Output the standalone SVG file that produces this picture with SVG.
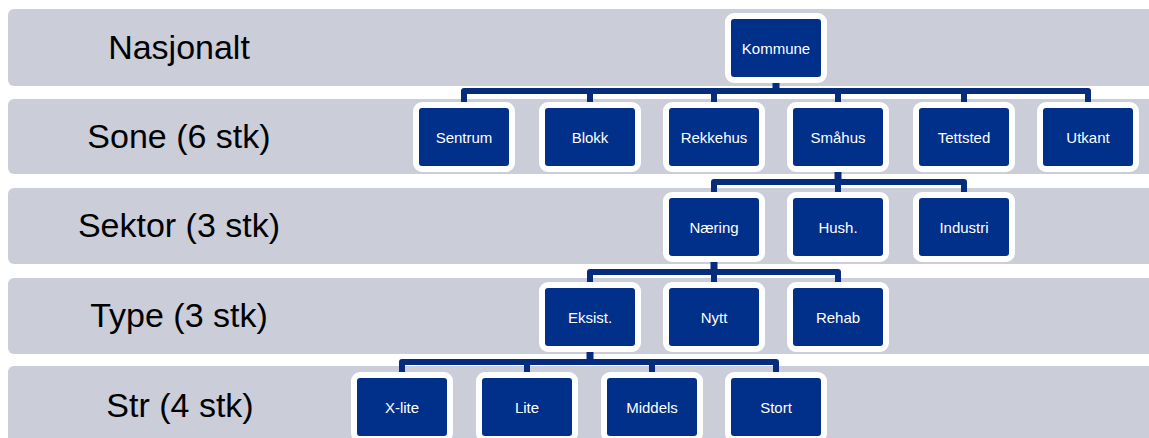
<svg xmlns="http://www.w3.org/2000/svg" width="1149" height="438" viewBox="0 0 1149 438">
  <style>
    .band { fill: #cbcdd9; }
    .lbl { font-family: "Liberation Sans", Arial, sans-serif; font-size: 34px; fill: #000; text-anchor: middle; }
    .node rect { fill: #00308a; stroke: #ffffff; stroke-width: 6; }
    .node text { font-family: "Liberation Sans", Arial, sans-serif; font-size: 15px; fill: #ffffff; text-anchor: middle; }
    .conn path { fill: none; stroke: #062d7d; stroke-width: 6; stroke-linejoin: round; }
    .conn path.stem { stroke-width: 7; }
  </style>
  <rect width="1149" height="438" fill="#ffffff"/>
  <g id="bands">
    <rect class="band" x="8" y="9" width="1150" height="77" rx="6"/>
    <rect class="band" x="8" y="99" width="1150" height="75" rx="6"/>
    <rect class="band" x="8" y="188" width="1150" height="76" rx="6"/>
    <rect class="band" x="8" y="278" width="1150" height="76" rx="6"/>
    <rect class="band" x="8" y="366" width="1150" height="80" rx="6"/>
    <text class="lbl" x="179" y="59">Nasjonalt</text>
    <text class="lbl" x="179" y="148">Sone (6 stk)</text>
    <text class="lbl" x="179" y="237">Sektor (3 stk)</text>
    <text class="lbl" x="179" y="327">Type (3 stk)</text>
    <text class="lbl" x="180" y="417">Str (4 stk)</text>
  </g>
  <g id="connectors" class="conn">
    <path class="stem" d="M776,80 V91"/>
    <path d="M464,103 V91 H1088 V103 M590,91 V103 M714,91 V103 M838,91 V103 M964,91 V103"/>
    <path class="stem" d="M838,170 V182"/>
    <path d="M714,193 V182 H964 V193 M838,182 V193"/>
    <path class="stem" d="M714,260 V272"/>
    <path d="M590,283 V272 H838 V283 M714,272 V283"/>
    <path class="stem" d="M590,350 V362"/>
    <path d="M402,373 V362 H776 V373 M527,362 V373 M652,362 V373"/>
  </g>
  <g id="node-kommune" class="node"><rect x="728" y="16" width="96" height="64" rx="6"/><text x="776" y="53.5">Kommune</text></g>
  <g id="node-sentrum" class="node"><rect x="416" y="105" width="96" height="64" rx="6"/><text x="464" y="142.5">Sentrum</text></g>
  <g id="node-blokk" class="node"><rect x="542" y="105" width="96" height="64" rx="6"/><text x="590" y="142.5">Blokk</text></g>
  <g id="node-rekkehus" class="node"><rect x="666" y="105" width="96" height="64" rx="6"/><text x="714" y="142.5">Rekkehus</text></g>
  <g id="node-smahus" class="node"><rect x="790" y="105" width="96" height="64" rx="6"/><text x="838" y="142.5">Småhus</text></g>
  <g id="node-tettsted" class="node"><rect x="916" y="105" width="96" height="64" rx="6"/><text x="964" y="142.5">Tettsted</text></g>
  <g id="node-utkant" class="node"><rect x="1040" y="105" width="96" height="64" rx="6"/><text x="1088" y="142.5">Utkant</text></g>
  <g id="node-naering" class="node"><rect x="666" y="195" width="96" height="64" rx="6"/><text x="714" y="232.5">Næring</text></g>
  <g id="node-hush" class="node"><rect x="790" y="195" width="96" height="64" rx="6"/><text x="838" y="232.5">Hush.</text></g>
  <g id="node-industri" class="node"><rect x="916" y="195" width="96" height="64" rx="6"/><text x="964" y="232.5">Industri</text></g>
  <g id="node-eksist" class="node"><rect x="542" y="285" width="96" height="64" rx="6"/><text x="590" y="322.5">Eksist.</text></g>
  <g id="node-nytt" class="node"><rect x="666" y="285" width="96" height="64" rx="6"/><text x="714" y="322.5">Nytt</text></g>
  <g id="node-rehab" class="node"><rect x="790" y="285" width="96" height="64" rx="6"/><text x="838" y="322.5">Rehab</text></g>
  <g id="node-xlite" class="node"><rect x="354" y="375" width="96" height="64" rx="6"/><text x="402" y="412.5">X-lite</text></g>
  <g id="node-lite" class="node"><rect x="479" y="375" width="96" height="64" rx="6"/><text x="527" y="412.5">Lite</text></g>
  <g id="node-middels" class="node"><rect x="604" y="375" width="96" height="64" rx="6"/><text x="652" y="412.5">Middels</text></g>
  <g id="node-stort" class="node"><rect x="728" y="375" width="96" height="64" rx="6"/><text x="776" y="412.5">Stort</text></g>
</svg>
